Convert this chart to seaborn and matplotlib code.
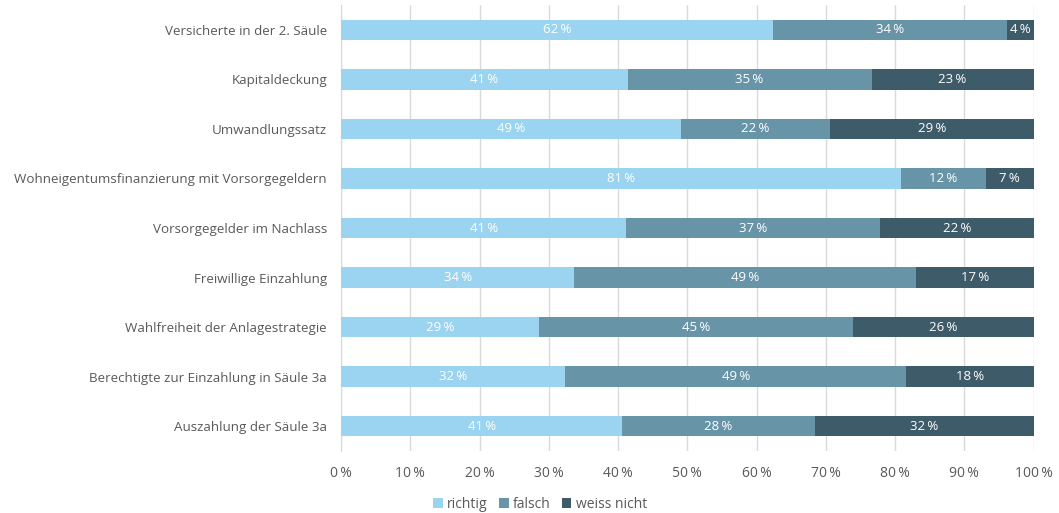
import numpy as np
import pandas as pd
import matplotlib
matplotlib.use("Agg")
import matplotlib.pyplot as plt
import seaborn as sns
from matplotlib.patches import Patch

categories = [
    "Versicherte in der 2. Säule",
    "Kapitaldeckung",
    "Umwandlungssatz",
    "Wohneigentumsfinanzierung mit Vorsorgegeldern",
    "Vorsorgegelder im Nachlass",
    "Freiwillige Einzahlung",
    "Wahlfreiheit der Anlagestrategie",
    "Berechtigte zur Einzahlung in Säule 3a",
    "Auszahlung der Säule 3a",
]
richtig = [62.4, 41.4, 49.1, 80.8, 41.2, 33.7, 28.6, 32.4, 40.6]
falsch = [33.7, 35.2, 21.5, 12.3, 36.6, 49.3, 45.3, 49.2, 27.8]
weiss_nicht = [3.9, 23.4, 29.4, 6.9, 22.2, 17.0, 26.1, 18.4, 31.6]

series_names = ["richtig", "falsch", "weiss nicht"]
colors = ["#9BD4F0", "#6894A8", "#3E5B69"]
text_grey = "#595959"

df = pd.DataFrame({"cat": categories, "richtig": richtig,
                   "falsch": falsch, "weiss nicht": weiss_nicht})
df["c1"] = df["richtig"]
df["c2"] = df["richtig"] + df["falsch"]
df["c3"] = df["c2"] + df["weiss nicht"]

sns.set_style("white")
plt.rcParams["font.family"] = ["Open Sans", "DejaVu Sans"]

fig = plt.figure(figsize=(10.59, 5.13), dpi=100)
ax = fig.add_axes([0.322, 0.121, 0.654, 0.869])

# stacked bars: draw cumulative totals from the back to the front
for col, color in zip(["c3", "c2", "c1"], colors[::-1]):
    sns.barplot(data=df, x=col, y="cat", orient="h", color=color,
                width=0.41, saturation=1, linewidth=0, ax=ax, zorder=3)

# segment labels
for i, row in df.iterrows():
    starts = [0, row["c1"], row["c2"]]
    for s, name in zip(starts, series_names):
        v = row[name]
        ax.text(s + v / 2, i, f"{round(v):.0f}\u2009%", ha="center", va="center",
                color="white", fontsize=9.5, zorder=4)

ax.set_xlim(0, 100)
ax.set_ylim(len(categories) - 0.5, -0.5)
ax.set_xticks(np.arange(0, 101, 10))
ax.set_xticklabels([f"{t}\u2009%" for t in range(0, 101, 10)], color=text_grey, fontsize=10)
ax.tick_params(axis="x", length=5, color="#d9d9d9", pad=6)
ax.tick_params(axis="y", length=0, pad=10, labelsize=9.6, labelcolor=text_grey)
ax.xaxis.grid(True, color="#d9d9d9", linewidth=1, zorder=0)
ax.set_axisbelow(True)
ax.set_xlabel("")
ax.set_ylabel("")
for side in ["top", "right", "bottom"]:
    ax.spines[side].set_visible(False)
ax.spines["left"].set_color("#d9d9d9")

handles = [Patch(facecolor=c, edgecolor="none") for c in colors]
fig.legend(handles, series_names, loc="lower center", bbox_to_anchor=(0.51, -0.022),
           ncol=3, frameon=False, fontsize=10, labelcolor=text_grey,
           handlelength=0.7, handleheight=0.7, handletextpad=0.3, columnspacing=0.8)

fig.savefig("out.png", dpi=100)
